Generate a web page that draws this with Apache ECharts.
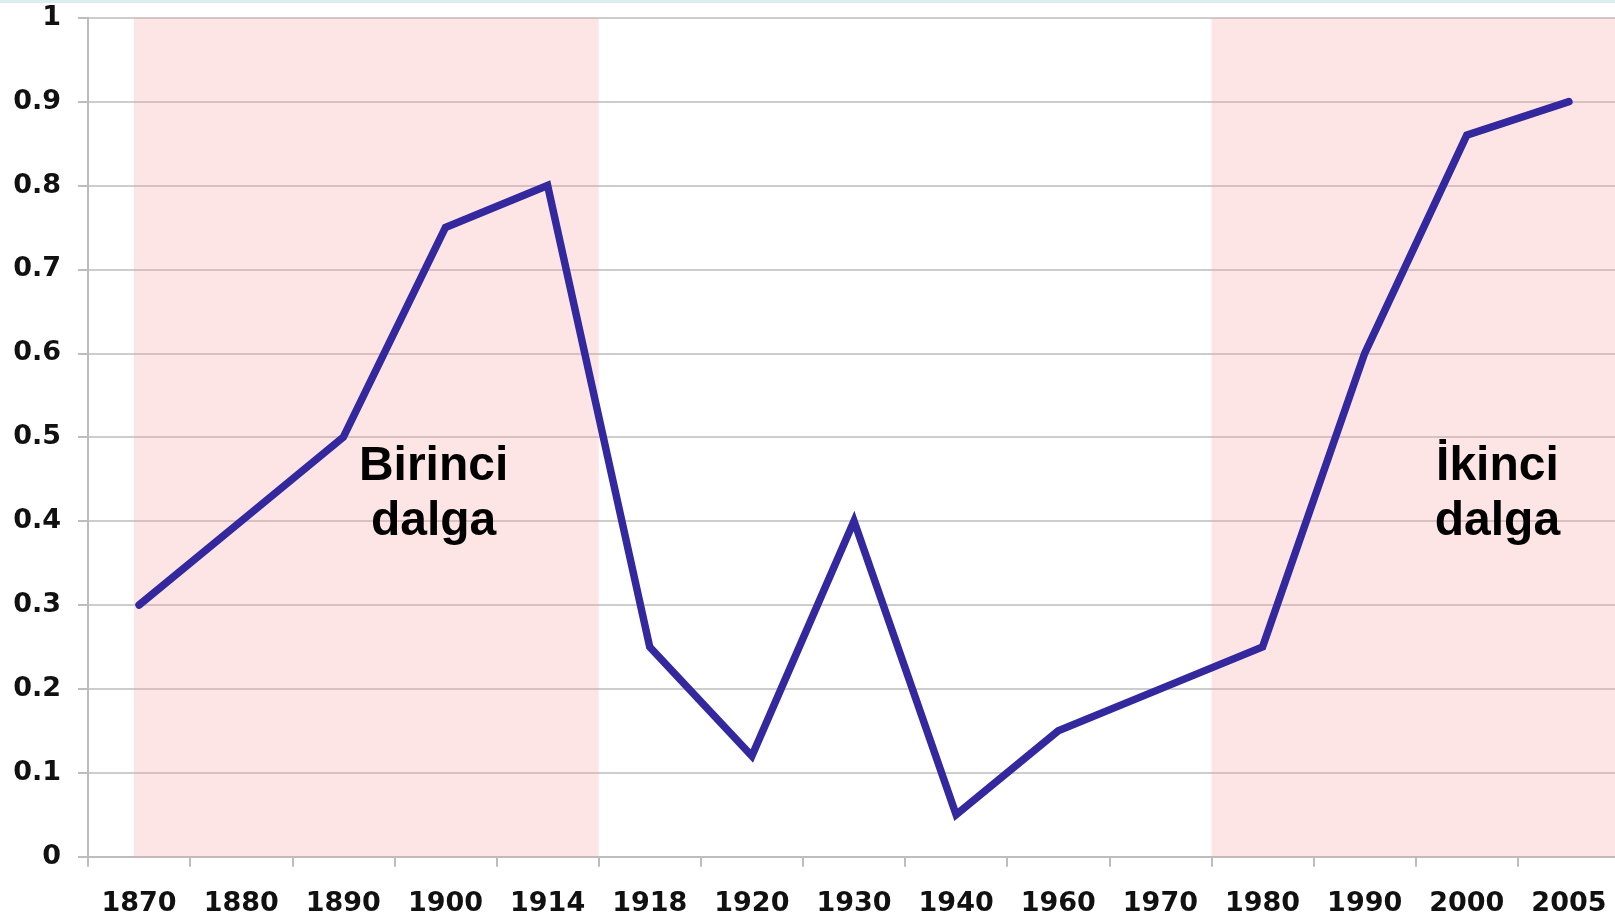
<!DOCTYPE html>
<html>
<head>
<meta charset="utf-8">
<script src="https://cdn.jsdelivr.net/npm/echarts@6/dist/echarts.min.js"></script>
<style>
  html, body { margin: 0; padding: 0; background: #ffffff; }
  #topbar { position: absolute; left: 0; top: 0; width: 1615px; height: 3px; background: #dcedf0; }
  #chart { width: 1615px; height: 917px; }
</style>
</head>
<body>
<div id="chart"></div>
<div id="topbar"></div>
<script>
// ---- data ----
const years = ['1870', '1880', '1890', '1900', '1914', '1918', '1920', '1930', '1940', '1960', '1970', '1980', '1990', '2000', '2005'];
const values = [0.30, 0.40, 0.50, 0.75, 0.80, 0.25, 0.12, 0.40, 0.05, 0.15, 0.20, 0.25, 0.60, 0.86, 0.90];
// shaded periods, in category-slot units (0 = left edge of first category)
const waveStart = [0.45, 11.0];
const waveEnd = [5.0, 15.0];
// wave labels: [slot position, value]
const waveLabels = ['Birinci\ndalga', 'İkinci\ndalga'];
const waveLabelX = [3.384, 13.8];
const waveLabelY = [0.432, 0.432];

const chart = echarts.init(document.getElementById('chart'));
const axisGray = '#bdbdbd';
const labelFont = { color: '#111111', fontFamily: 'DejaVu Sans', fontWeight: 'bold', fontSize: 27 };

chart.setOption({
  animation: false,
  backgroundColor: 'transparent',
  grid: { left: 88, top: 17.7, bottom: 60.3, width: 1532, containLabel: false, outerBoundsMode: 'none' },
  xAxis: [
    {
      type: 'category',
      data: years,
      boundaryGap: true,
      axisLine: { show: true, lineStyle: { color: axisGray, width: 2 } },
      axisTick: { show: true, length: 10, lineStyle: { color: axisGray, width: 2 } },
      axisLabel: Object.assign({ margin: 34, interval: 0 }, labelFont),
      splitLine: { show: false }
    },
    {
      type: 'value', min: 0, max: 15, show: false,
      axisLine: { show: false }, splitLine: { show: false }
    }
  ],
  yAxis: {
    type: 'value',
    min: 0, max: 1, interval: 0.1,
    axisLine: { show: true, lineStyle: { color: axisGray, width: 2 } },
    axisTick: { show: true, length: 10, lineStyle: { color: axisGray, width: 2 } },
    axisLabel: Object.assign({ margin: 27 }, labelFont),
    splitLine: { show: true, lineStyle: { color: '#bcbcbc', width: 1.5 } }
  },
  series: [
    {
      type: 'line',
      xAxisIndex: 1,
      z: 1,
      symbol: 'none',
      lineStyle: { width: 0, opacity: 0 },
      data: [],
      markArea: {
        silent: true,
        itemStyle: { color: 'rgba(248,160,160,0.28)' },
        data: waveStart.map((s, i) => [{ xAxis: s }, { xAxis: waveEnd[i] }])
      }
    },
    {
      type: 'line',
      z: 3,
      data: values,
      symbol: 'none',
      lineStyle: { color: '#33289e', width: 7.5, cap: 'round', join: 'miter' }
    },
    {
      type: 'scatter',
      xAxisIndex: 1,
      z: 5,
      symbolSize: 0,
      itemStyle: { opacity: 1 },
      data: waveLabels.map((t, i) => ({ name: t, value: [waveLabelX[i], waveLabelY[i]] })),
      label: {
        show: true, position: 'inside', formatter: p => p.name,
        color: '#000000', textBorderWidth: 0, textBorderColor: 'transparent', opacity: 1,
        fontFamily: 'Liberation Sans', fontWeight: 'bold',
        fontSize: 48, lineHeight: 55, align: 'center', verticalAlign: 'middle'
      }
    }
  ]
});
</script>
</body>
</html>
